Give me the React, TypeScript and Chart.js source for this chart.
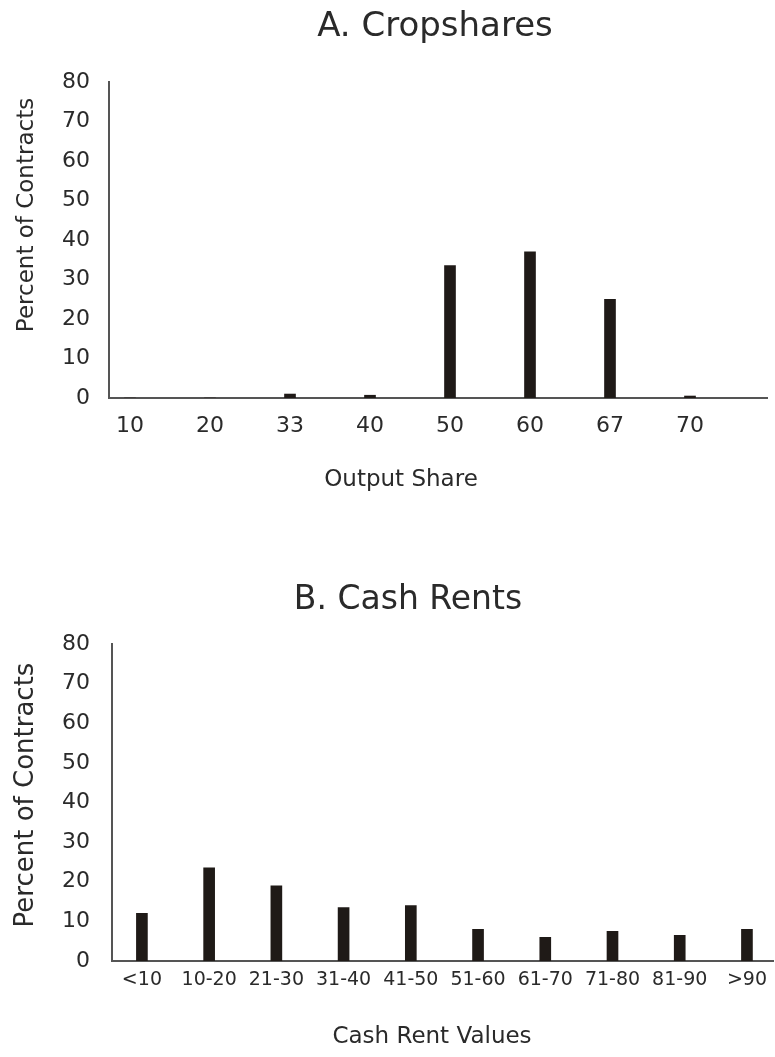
import React, { useEffect, useRef } from 'react';
import { Chart, registerables } from 'chart.js';

Chart.register(...registerables);

// ---------- data ----------
const shareCategories = ['10', '20', '33', '40', '50', '60', '67', '70'];
const shareValues = [0, 0, 1.0, 0.7, 33.5, 37, 25, 0.5];

const rentCategories = ['<10', '10-20', '21-30', '31-40', '41-50', '51-60', '61-70', '71-80', '81-90', '>90'];
const rentValues = [12, 23.5, 19, 13.5, 14, 8, 6, 7.5, 6.5, 8];

const yTickValues = [0, 10, 20, 30, 40, 50, 60, 70, 80];

const titleA = 'A. Cropshares';
const titleB = 'B. Cash Rents';
const xTitleA = 'Output Share';
const xTitleB = 'Cash Rent Values';
const yTitle = 'Percent of Contracts';

// ---------- styles ----------
const FONT = '"DejaVu Sans", "Noto Sans", sans-serif';
const TEXT = '#2a2a2a';
const BAR = '#1f1a17';
const AXIS = '#555555';

type Caption = { text: string; x: number; y: number; size: number; rotate?: boolean };

function captionPlugin(items: Caption[]) {
  return {
    id: 'captions',
    afterDraw(chart: any) {
      const ctx = chart.ctx as CanvasRenderingContext2D;
      items.forEach((c) => {
        ctx.save();
        ctx.font = `${c.size}px ${FONT}`;
        ctx.fillStyle = TEXT;
        ctx.textAlign = 'center';
        ctx.textBaseline = 'alphabetic';
        ctx.translate(c.x, c.y);
        if (c.rotate) ctx.rotate(-Math.PI / 2);
        ctx.fillText(c.text, 0, 0);
        ctx.restore();
      });
    },
  };
}

type PanelSpec = {
  width: number;
  height: number;
  categories: string[];
  values: number[];
  xMin: number;
  xMax: number;
  areaTop: number;
  padRight: number;
  yAxisWidth: number;
  xAxisHeight: number;
  xTickSize: number;
  xTickPad: number;
  yTickSize: number;
  yTickPad: number;
  captions: Caption[];
};

function makeConfig(p: PanelSpec): any {
  return {
    type: 'bar',
    data: {
      datasets: [
        {
          data: p.values.map((v, i) => ({ x: i, y: v })),
          backgroundColor: BAR,
          borderWidth: 0,
          barThickness: 11,
        },
      ],
    },
    options: {
      responsive: false,
      animation: false,
      events: [],
      layout: { padding: { top: p.areaTop, right: p.padRight, left: 0, bottom: 0 } },
      plugins: {
        legend: { display: false },
        tooltip: { enabled: false },
        title: { display: false },
      },
      scales: {
        x: {
          type: 'linear',
          offset: false,
          min: p.xMin,
          max: p.xMax,
          grid: { display: false, drawTicks: false },
          border: { display: true, color: AXIS, width: 2 },
          ticks: {
            stepSize: 1,
            includeBounds: false,
            autoSkip: false,
            maxRotation: 0,
            minRotation: 0,
            padding: p.xTickPad,
            color: TEXT,
            font: { family: FONT, size: p.xTickSize },
            callback: (v: number) => (Number.isInteger(v) && p.categories[v] !== undefined ? p.categories[v] : ''),
          },
          afterFit: (s: any) => {
            s.height = p.xAxisHeight;
          },
        },
        y: {
          type: 'linear',
          min: 0,
          max: 80,
          grid: { display: false, drawTicks: false },
          border: { display: true, color: AXIS, width: 2 },
          ticks: {
            stepSize: 10,
            padding: p.yTickPad,
            color: TEXT,
            font: { family: FONT, size: p.yTickSize },
          },
          afterBuildTicks: (s: any) => {
            s.ticks = yTickValues.map((v) => ({ value: v }));
          },
          afterFit: (s: any) => {
            s.width = p.yAxisWidth;
          },
        },
      },
    },
    plugins: [captionPlugin(p.captions)],
  };
}

function Panel({ spec, top }: { spec: PanelSpec; top: number }) {
  const ref = useRef<HTMLCanvasElement | null>(null);
  useEffect(() => {
    if (!ref.current) return;
    const chart = new Chart(ref.current, makeConfig(spec));
    return () => chart.destroy();
  }, [spec]);
  return (
    <div style={{ position: 'absolute', left: 0, top, width: spec.width, height: spec.height }}>
      <canvas ref={ref} width={spec.width} height={spec.height} style={{ display: 'block' }} />
    </div>
  );
}

const specA: PanelSpec = {
  width: 775,
  height: 530,
  categories: shareCategories,
  values: shareValues,
  xMin: -0.2625,
  xMax: 7.9625,
  areaTop: 82,
  padRight: 8,
  yAxisWidth: 109,
  xAxisHeight: 132,
  xTickSize: 22,
  xTickPad: 15,
  yTickSize: 22,
  yTickPad: 19,
  captions: [
    { text: titleA, x: 435, y: 36, size: 34 },
    { text: xTitleA, x: 401, y: 486, size: 23 },
    { text: yTitle, x: 33, y: 215, size: 23, rotate: true },
  ],
};

const specB: PanelSpec = {
  width: 775,
  height: 527,
  categories: rentCategories,
  values: rentValues,
  xMin: -0.445,
  xMax: 9.392,
  areaTop: 114,
  padRight: 0,
  yAxisWidth: 112,
  xAxisHeight: 96,
  xTickSize: 19,
  xTickPad: 8,
  yTickSize: 22,
  yTickPad: 22,
  captions: [
    { text: titleB, x: 408, y: 79, size: 33 },
    { text: xTitleB, x: 432, y: 513, size: 23 },
    { text: yTitle, x: 33, y: 265, size: 26, rotate: true },
  ],
};

export default function App() {
  return (
    <div style={{ position: 'absolute', left: 0, top: 0, width: 775, height: 1057, background: '#ffffff', overflow: 'hidden' }}>
      <Panel spec={specA} top={0} />
      <Panel spec={specB} top={530} />
    </div>
  );
}
